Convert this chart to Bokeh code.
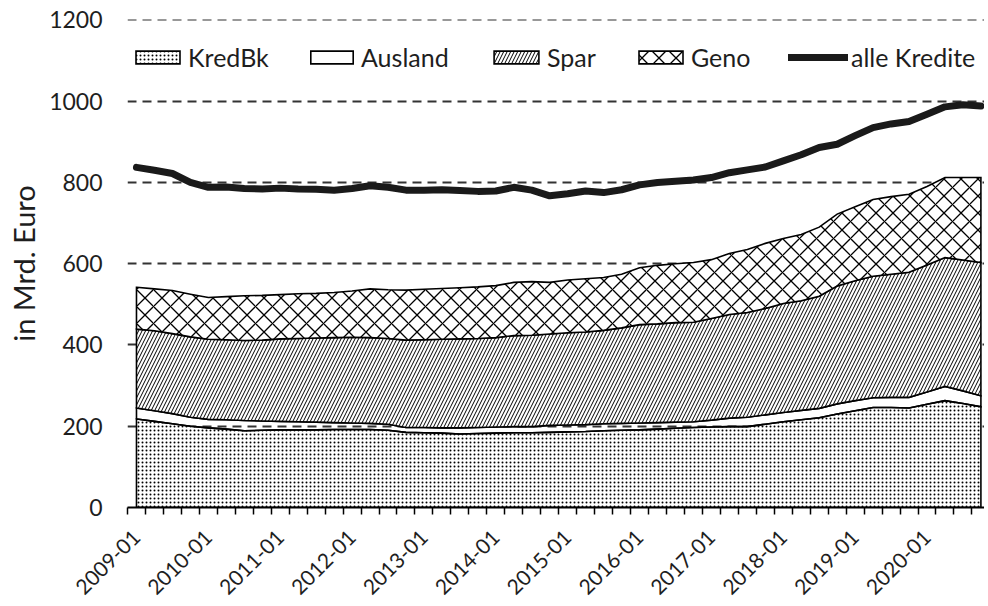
import math
import numpy as np
from bokeh.plotting import figure
from bokeh.models import Range1d, FixedTicker, Legend, LegendItem
from bokeh.embed import file_html
from bokeh.resources import INLINE

# Quarterly data 2009-01 .. 2020-10 (in Mrd. Euro)
kredbk = [218, 212, 206, 200, 196, 193, 189, 190, 191, 191, 191, 192, 192, 192, 190, 185,
          184, 183, 181, 182, 183, 184, 184, 185, 186, 187, 189, 190, 191, 193, 195, 197,
          198, 199, 199, 205, 211, 216, 221, 230, 238, 246, 246, 245, 254, 263, 256, 248]
ausland = [27, 26, 25, 22, 21, 23, 25, 23, 21, 20, 19, 17, 16, 15, 15, 12,
           13, 13, 15, 15, 15, 15, 15, 17, 17, 17, 17, 17, 17, 16, 15, 14,
           17, 21, 23, 23, 23, 23, 23, 25, 25, 24, 25, 26, 30, 35, 31, 27]
spar = [194, 197, 197, 198, 197, 197, 197, 199, 203, 205, 207, 209, 211, 211, 211, 215,
        216, 218, 219, 219, 220, 224, 225, 225, 227, 228, 230, 235, 242, 243, 245, 245,
        250, 255, 258, 262, 268, 270, 276, 290, 295, 299, 303, 308, 313, 317, 322, 328]
geno = [103, 103, 106, 105, 103, 106, 110, 110, 109, 110, 110, 111, 114, 120, 120, 123,
        124, 125, 126, 127, 128, 131, 132, 127, 130, 131, 130, 132, 140, 144, 145, 147,
        145, 150, 155, 160, 160, 163, 170, 177, 182, 189, 191, 192, 193, 197, 203, 209]
alle_kredite = [837, 830, 822, 800, 788, 789, 785, 784, 786, 784, 783, 781, 785, 792, 788, 781,
                781, 782, 780, 778, 779, 788, 781, 767, 772, 779, 775, 782, 794, 800, 803, 806,
                812, 824, 831, 838, 853, 868, 886, 894, 915, 935, 944, 950, 968, 986, 991, 988]

tick_labels = ["2009-01", "2010-01", "2011-01", "2012-01", "2013-01", "2014-01",
               "2015-01", "2016-01", "2017-01", "2018-01", "2019-01", "2020-01"]
y_ticks = [0, 200, 400, 600, 800, 1000, 1200]

FONT = "Lato"
TXT = "#1e1e1e"

n = len(kredbk)
x = np.arange(n)

p = figure(width=984, height=604, output_backend="svg", toolbar_location=None,
           x_range=Range1d(-0.5, 47.2), y_range=Range1d(0, 1201),
           min_border_left=127, min_border_right=0, min_border_top=19, min_border_bottom=97)
p.outline_line_color = None
p.background_fill_color = "white"

# stacking
t0 = np.array(kredbk, dtype=float)
t1 = t0 + np.array(ausland)
t2 = t1 + np.array(spar)
t3 = t2 + np.array(geno)
z = np.zeros(n)

def band(bottom, top):
    xs = np.concatenate([x, x[::-1]])
    ys = np.concatenate([top, bottom[::-1]])
    return xs, ys

common = dict(line_color="black", line_width=1.6, line_join="miter")
xs, ys = band(z, t0)
r_k = p.patch(xs, ys, fill_color="white", hatch_pattern="dot", hatch_scale=4,
              hatch_color="black", hatch_weight=2.1, **common)
xs, ys = band(t0, t1)
r_a = p.patch(xs, ys, fill_alpha=0, **common)
xs, ys = band(t1, t2)
r_s = p.patch(xs, ys, fill_color="white", hatch_pattern="right_diagonal_line", hatch_scale=7,
              hatch_color="black", hatch_weight=1.0, **common)
xs, ys = band(t2, t3)
r_g = p.patch(xs, ys, fill_color="white", hatch_pattern="diagonal_cross", hatch_scale=17,
              hatch_color="black", hatch_weight=1.3, **common)
r_l = p.line(x, alle_kredite, line_color="#1a1a1a", line_width=7, line_join="round", line_cap="round")

# grid
p.xgrid.visible = False
p.ygrid.ticker = FixedTicker(ticks=y_ticks[1:])
p.ygrid.grid_line_color = "#333333"
p.ygrid.grid_line_width = 2
p.ygrid.grid_line_dash = "9 6"

# x axis
xa = p.xaxis[0]
xa.ticker = FixedTicker(ticks=[4 * i for i in range(len(tick_labels))],
                        minor_ticks=[k - 0.5 for k in range(n + 1)])
xa.major_label_overrides = {4 * i: lab for i, lab in enumerate(tick_labels)}
xa.major_label_orientation = math.pi / 4
xa.major_tick_in = 0
xa.major_tick_out = 0
xa.minor_tick_in = 0
xa.minor_tick_out = 7
xa.minor_tick_line_color = "black"
xa.minor_tick_line_width = 1.5
xa.axis_line_color = "black"
xa.axis_line_width = 2
xa.major_label_standoff = 19
xa.major_label_text_font = FONT
xa.major_label_text_font_size = "21px"
xa.major_label_text_color = TXT

# y axis
ya = p.yaxis[0]
ya.ticker = FixedTicker(ticks=y_ticks)
ya.axis_line_color = None
ya.major_tick_line_color = None
ya.minor_tick_line_color = None
ya.major_label_standoff = 19
ya.major_label_text_font = FONT
ya.major_label_text_font_size = "23px"
ya.major_label_text_color = TXT
ya.axis_label = "in Mrd. Euro"
ya.axis_label_text_font = FONT
ya.axis_label_text_font_size = "29px"
ya.axis_label_text_font_style = "normal"
ya.axis_label_text_color = TXT
ya.axis_label_standoff = 5

# legend (one per entry to place them like the original)
def add_leg(label, r, vx, gw):
    leg = Legend(items=[LegendItem(label=label, renderers=[r])], location=(vx, 435),
                 orientation="horizontal", glyph_width=gw, glyph_height=16, label_standoff=3,
                 padding=0, margin=0, spacing=0, border_line_color=None, background_fill_alpha=0,
                 label_text_font=FONT, label_text_font_size="25px", label_text_color=TXT,
                 label_height=16)
    p.add_layout(leg)

add_leg("KredBk", r_k, 3, 55)
add_leg("Ausland", r_a, 178, 53)
add_leg("Spar", r_s, 361, 56)
add_leg("Geno", r_g, 506, 55)
add_leg("alle Kredite", r_l, 661, 60)

open("out.html", "w").write(file_html(p, INLINE))
